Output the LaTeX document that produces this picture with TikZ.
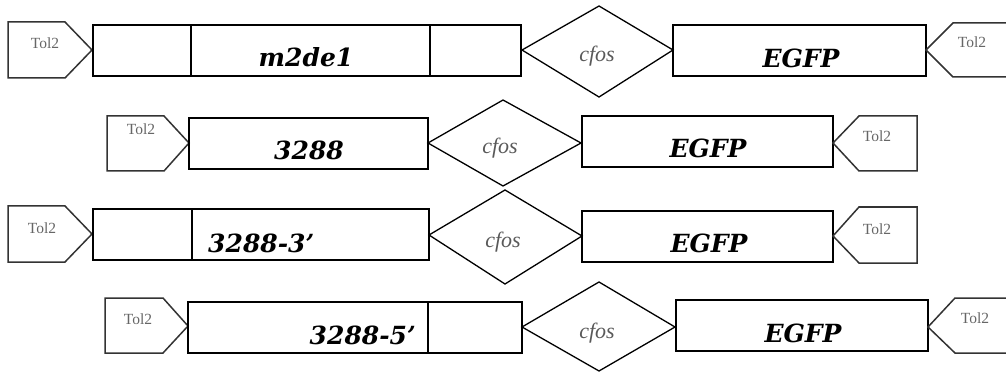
\documentclass[tikz,border=0pt]{standalone}
\usepackage{fontspec}
\newfontfamily\dvserif{DejaVu Serif}
\newfontfamily\libserif{Liberation Serif}
\newcommand\genefont{\dvserif\bfseries\itshape\fontsize{25}{25}\selectfont}
\newcommand\promfont{\libserif\itshape\fontsize{22}{22}\selectfont}
\newcommand\tolfont{\libserif\fontsize{15.5}{15.5}\selectfont}
\tikzset{
  part/.style={draw=black, line width=1.3pt, line join=miter},
  tolshape/.style={draw=black!80, line width=1.5pt, line join=miter},
  tollabel/.style={font=\tolfont, text=black!60, inner sep=0pt},
  genelabel/.style={font=\genefont, text=black, anchor=base, inner sep=0pt},
  promlabel/.style={font=\promfont, text=black!65, anchor=base, inner sep=0pt},
}
\begin{document}
\begin{tikzpicture}[x=1pt, y=-1pt]
  \useasboundingbox (0,0) rectangle (1006,374);
  \clip (0,0) rectangle (1006,374);

  % ---- construct 1: Tol2 - m2de1 - cfos - EGFP - Tol2
  \draw[tolshape] (8,22) -- (65,22) -- (92,50) -- (65,78) -- (8,78) -- cycle;
  \draw[part] (93,25) rectangle (521,76);
  \draw[part] (191,25) -- (191,76);
  \draw[part] (430,25) -- (430,76);
  \draw[part] (522,50) -- (599,6) -- (673,50) -- (599,97) -- cycle;
  \draw[part] (673,25) rectangle (926,76);
  \draw[tolshape] (1012,23) -- (953,23) -- (926,50) -- (953,77) -- (1012,77);
  \node[tollabel] (t1l) at (45,43) {Tol2};
  \node[genelabel] (g1) at (306,67) {m2de1};
  \node[promlabel] (p1) at (597,62) {cfos};
  \node[genelabel] (e1) at (801,68) {EGFP};
  \node[tollabel] (t1r) at (972,42) {Tol2};

  % ---- construct 2: Tol2 - 3288 - cfos - EGFP - Tol2
  \draw[tolshape] (107,116) -- (164,116) -- (189,143) -- (164,171) -- (107,171) -- cycle;
  \draw[part] (189,118) rectangle (428,169);
  \draw[part] (428,143) -- (503,100) -- (581,143) -- (503,186) -- cycle;
  \draw[part] (582,116) rectangle (833,167);
  \draw[tolshape] (833,143) -- (859,116) -- (917,116) -- (917,171) -- (859,171) -- cycle;
  \node[tollabel] (t2l) at (141,129) {Tol2};
  \node[genelabel] (g2) at (309,160) {3288};
  \node[promlabel] (p2) at (500,154) {cfos};
  \node[genelabel] (e2) at (708,158) {EGFP};
  \node[tollabel] (t2r) at (877,136) {Tol2};

  % ---- construct 3: Tol2 - 3288-3' - cfos - EGFP - Tol2
  \draw[tolshape] (8,206) -- (65,206) -- (92,234) -- (65,262) -- (8,262) -- cycle;
  \draw[part] (93,209) rectangle (429,260);
  \draw[part] (192,209) -- (192,260);
  \draw[part] (429,235) -- (505,190) -- (582,236) -- (505,284) -- cycle;
  \draw[part] (582,211) rectangle (833,262);
  \draw[tolshape] (833,236) -- (859,207) -- (917,207) -- (917,263) -- (859,263) -- cycle;
  \node[tollabel] (t3l) at (42,228) {Tol2};
  \node[genelabel, anchor=base west] (g3) at (208,252) {3288-3’};
  \node[promlabel] (p3) at (503,247) {cfos};
  \node[genelabel] (e3) at (709,252) {EGFP};
  \node[tollabel] (t3r) at (877,229) {Tol2};

  % ---- construct 4: Tol2 - 3288-5' - cfos - EGFP - Tol2
  \draw[tolshape] (105,298) -- (163,298) -- (188,326) -- (163,353) -- (105,353) -- cycle;
  \draw[part] (188,302) rectangle (522,353);
  \draw[part] (428,302) -- (428,353);
  \draw[part] (522,327) -- (599,282) -- (675,327) -- (599,371) -- cycle;
  \draw[part] (676,300) rectangle (928,351);
  \draw[tolshape] (1012,298) -- (955,298) -- (928,327) -- (955,353) -- (1012,353);
  \node[tollabel] (t4l) at (138,319) {Tol2};
  \node[genelabel, anchor=base east] (g4) at (416,344) {3288-5’};
  \node[promlabel] (p4) at (597,338) {cfos};
  \node[genelabel] (e4) at (803,342) {EGFP};
  \node[tollabel] (t4r) at (975,318) {Tol2};
\end{tikzpicture}
\end{document}
